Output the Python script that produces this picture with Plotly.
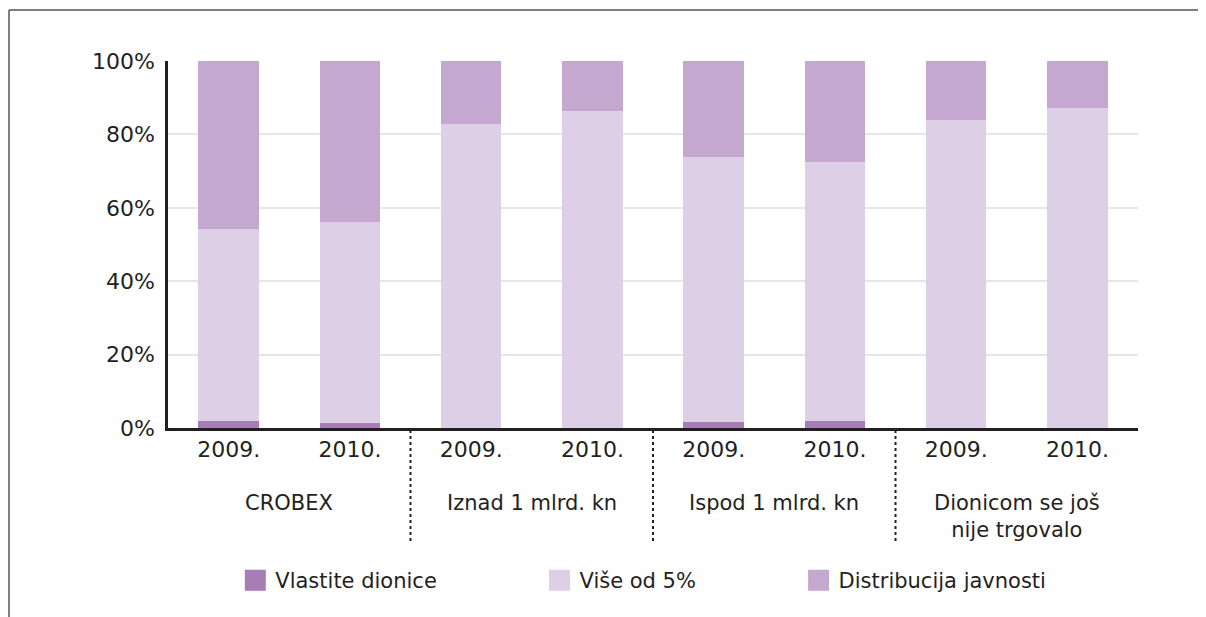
import plotly.graph_objects as go

# ---- data ----
groups = ["CROBEX", "Iznad 1 mlrd. kn", "Ispod 1 mlrd. kn", "Dionicom se još<br>nije trgovalo"]
years = ["2009.", "2010.", "2009.", "2010.", "2009.", "2010.", "2009.", "2010."]
vlastite = [1.9, 1.4, 0.0, 0.0, 1.6, 1.9, 0.0, 0.0]
vise = [52.3, 54.7, 82.8, 86.4, 72.2, 70.6, 83.9, 87.2]
distribucija = [round(100 - a - b, 1) for a, b in zip(vlastite, vise)]
y_ticks = [0, 20, 40, 60, 80, 100]
series_names = ["Vlastite dionice", "Više od 5%", "Distribucija javnosti"]
colors = ["#a87db5", "#ddd0e6", "#c4a8cf"]

FONT = "DejaVu Sans"
TXT = "#231f20"
x = list(range(len(years)))

fig = go.Figure()
for name, vals, col in zip(series_names, [vlastite, vise, distribucija], colors):
    fig.add_trace(go.Bar(x=x, y=vals, name=name, marker=dict(color=col, line=dict(width=0)),
                         width=0.5, showlegend=False))
# legend entries with larger square swatches
pads = ["\u00a0" * 14 + "\u2009", "\u00a0" * 14 + "\u2009", ""]
for name, col, pad in zip(series_names, colors, pads):
    fig.add_trace(go.Scatter(x=[None], y=[None], mode="markers", name=name + pad,
                             marker=dict(symbol="square", size=16, color=col,
                                         line=dict(color=col, width=5))))

# page geometry (body has an 8px margin)
OFF = 8
W, H = 1206, 617
L, R, T, B = 168, 1138, 61, 428
def px(xp):
    return (xp - L) / (R - L)
def py(yp):
    return (B - yp) / (B - T)

shapes = []
# frame
shapes.append(dict(type="line", xref="paper", yref="paper", x0=px(9), x1=px(1206), y0=py(10), y1=py(10),
                   line=dict(color="#555555", width=1.5)))
shapes.append(dict(type="line", xref="paper", yref="paper", x0=px(9), x1=px(9), y0=py(10), y1=py(617),
                   line=dict(color="#555555", width=1.5)))
# dotted separators between groups
for g in range(1, len(groups)):
    xs = 2 * g - 0.5
    shapes.append(dict(type="line", xref="x", yref="paper", x0=xs, x1=xs, y0=py(430), y1=py(541),
                       line=dict(color="#222222", width=2, dash="dot")))

annotations = []
for g, lab in enumerate(groups):
    annotations.append(dict(x=2 * g + 0.5, xref="x", y=py(489), yref="paper", text=lab,
                            showarrow=False, yanchor="top", xanchor="center",
                            font=dict(family=FONT, size=21, color=TXT)))

fig.update_layout(
    width=W - OFF, height=H - OFF,
    margin=dict(l=L - OFF, r=W - R, t=T - OFF, b=H - B),
    barmode="stack",
    plot_bgcolor="white", paper_bgcolor="white",
    font=dict(family=FONT, size=21, color=TXT),
    shapes=shapes, annotations=annotations,
    legend=dict(orientation="h", x=0.49, xanchor="center", y=py(560), yanchor="top",
                font=dict(family=FONT, size=21, color=TXT), itemsizing="trace",
                itemwidth=30, traceorder="normal"),
    xaxis=dict(range=[-0.5, 7.5], tickmode="array", tickvals=x, ticktext=years,
               showline=True, linecolor=TXT, linewidth=2.5, showgrid=False,
               ticks="", zeroline=False, fixedrange=True, tickfont=dict(size=22)),
    yaxis=dict(range=[0, 100], tickmode="array", tickvals=y_ticks,
               ticktext=[f"{v}%" for v in y_ticks],
               showline=True, linecolor=TXT, linewidth=2.5,
               showgrid=True, gridcolor="#e6e6e6", gridwidth=2, zeroline=False,
               ticks="", ticklabelstandoff=6, fixedrange=True, tickfont=dict(size=22)),
)
fig.write_html("out.html")
